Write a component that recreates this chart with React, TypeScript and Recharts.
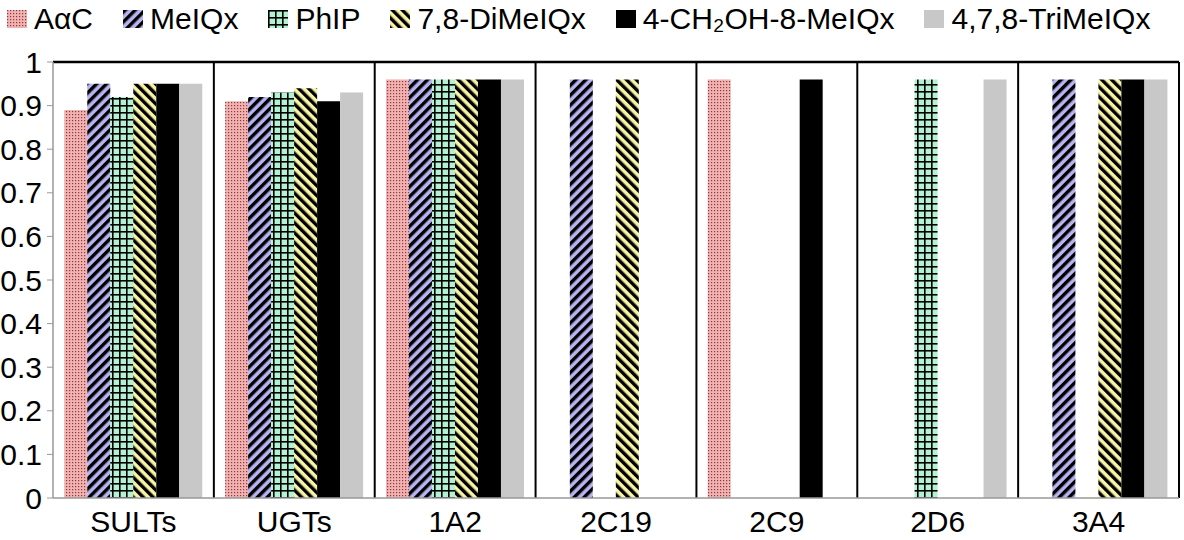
import { BarChart, Bar, XAxis, YAxis, ReferenceLine } from "recharts";

/* ─── Dados ─── */

const categories = ["SULTs", "UGTs", "1A2", "2C19", "2C9", "2D6", "3A4"];

const aac = [0.89, 0.91, 0.96, null, 0.96, null, null];
const meiqx = [0.95, 0.92, 0.96, 0.96, null, null, 0.96];
const phip = [0.92, 0.93, 0.96, null, null, 0.96, null];
const dimeiqx = [0.95, 0.94, 0.96, 0.96, null, null, 0.96];
const ch2oh = [0.95, 0.91, 0.96, null, 0.96, null, 0.96];
const trimeiqx = [0.95, 0.93, 0.96, null, null, 0.96, 0.96];

const yTicks = [0, 0.1, 0.2, 0.3, 0.4, 0.5, 0.6, 0.7, 0.8, 0.9, 1];
const boundaries = [0, 1, 2, 3, 4, 5, 6, 7];

const series = [
  { key: "aac", name: "AαC", values: aac, fill: "url(#pAac)" },
  { key: "meiqx", name: "MeIQx", values: meiqx, fill: "url(#pMeiqx)" },
  { key: "phip", name: "PhIP", values: phip, fill: "url(#pPhip)" },
  { key: "dimeiqx", name: "7,8-DiMeIQx", values: dimeiqx, fill: "url(#pDimeiqx)" },
  { key: "ch2oh", name: "4-CH₂OH-8-MeIQx", values: ch2oh, fill: "#000000" },
  { key: "trimeiqx", name: "4,7,8-TriMeIQx", values: trimeiqx, fill: "#c8c8c8" },
];

const data = categories.map((cat, i) => {
  const row: Record<string, string | number | null> = { cat, idx: i + 0.5 };
  series.forEach((s) => {
    row[s.key] = s.values[i];
  });
  return row;
});

const FONT = '"Liberation Sans", Arial, sans-serif';

/* ─── Padrões de preenchimento ─── */

function Patterns() {
  return (
    <svg width={0} height={0} style={{ position: "absolute" }}>
      <defs>
        <pattern id="pAac" width={3} height={3} patternUnits="userSpaceOnUse">
          <rect width={3} height={3} fill="#f3b2b2" />
          <rect width={1.2} height={1.2} fill="#8a3a3a" />
        </pattern>
        <pattern
          id="pMeiqx"
          width={7}
          height={7}
          patternUnits="userSpaceOnUse"
          patternTransform="rotate(45)"
        >
          <rect width={7} height={7} fill="#b8b4f2" />
          <rect width={3.4} height={7} fill="#000000" />
        </pattern>
        <pattern id="pPhip" width={7} height={7} patternUnits="userSpaceOnUse">
          <rect width={7} height={7} fill="#b2f2d2" />
          <rect width={1.6} height={7} fill="#000000" />
          <rect width={7} height={1.6} fill="#000000" />
        </pattern>
        <pattern
          id="pDimeiqx"
          width={7}
          height={7}
          patternUnits="userSpaceOnUse"
          patternTransform="rotate(-45)"
        >
          <rect width={7} height={7} fill="#f8f4a6" />
          <rect width={3.4} height={7} fill="#000000" />
        </pattern>
      </defs>
    </svg>
  );
}

/* ─── Legenda ─── */

function TopLegend() {
  return (
    <div
      style={{
        position: "absolute",
        left: 7,
        top: 0,
        height: 38,
        display: "flex",
        alignItems: "center",
        fontFamily: FONT,
        fontSize: 30,
        color: "#000",
        whiteSpace: "nowrap",
        zIndex: 2,
      }}
    >
      {series.map((s) => (
        <div key={s.key} style={{ display: "flex", alignItems: "center", marginRight: 30 }}>
          <svg width={20} height={18} style={{ marginRight: 7 }}>
            <rect width={20} height={18} fill={s.fill} />
          </svg>
          <span>{s.name}</span>
        </div>
      ))}
    </div>
  );
}

const fmtY = (v: number) => (v === 0 ? "0" : v === 1 ? "1" : v.toFixed(1));

export default function App() {
  return (
    <div style={{ position: "absolute", left: 0, top: 0, width: 1184, height: 540, background: "#fff" }}>
      <Patterns />
      <TopLegend />
      <BarChart
        width={1184}
        height={540}
        data={data}
        margin={{ top: 62, right: 5, bottom: 0, left: 0 }}
        barCategoryGap="7%"
        barGap={0}
      >
        <XAxis
          xAxisId="b"
          type="number"
          dataKey="idx"
          domain={[0, 7]}
          ticks={boundaries}
          height={0}
          axisLine={false}
          tickLine={{ stroke: "#999999" }}
          tickSize={6}
          tickFormatter={() => ""}
        />
        <XAxis
          dataKey="cat"
          height={42}
          tickLine={false}
          axisLine={{ stroke: "#999999", strokeWidth: 1.5 }}
          tickSize={6}
          tickMargin={7}
          tick={{ fill: "#000", fontSize: 30, fontFamily: FONT }}
        />
        <YAxis
          domain={[0, 1]}
          ticks={yTicks}
          width={53}
          tickFormatter={fmtY}
          axisLine={{ stroke: "#999999", strokeWidth: 1.5 }}
          tickLine={{ stroke: "#999999" }}
          tickSize={6}
          tickMargin={5}
          tick={{ fill: "#000", fontSize: 30, fontFamily: FONT }}
        />

        {series.map((s) => (
          <Bar
            key={s.key}
            dataKey={s.key}
            name={s.name}
            fill={s.fill}
            isAnimationActive={false}
          />
        ))}

        {/* Separadores entre grupos e moldura */}
        {boundaries.slice(1).map((b) => (
          <ReferenceLine key={b} xAxisId="b" x={b} stroke="#000" strokeWidth={2} />
        ))}
        <ReferenceLine y={1} stroke="#000" strokeWidth={2.5} />
      </BarChart>
    </div>
  );
}
